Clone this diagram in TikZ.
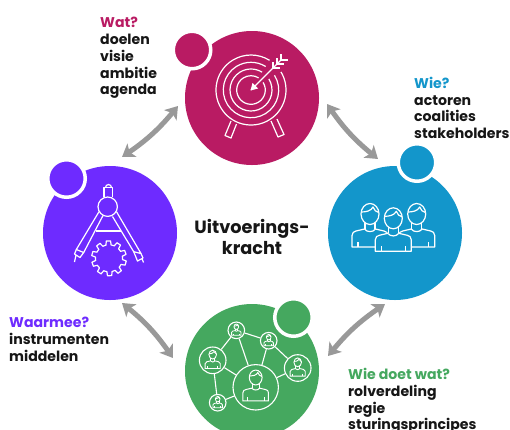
\documentclass[tikz,border=0pt]{standalone}
\usepackage{fontspec}
\setmainfont{Poppins}
\usetikzlibrary{arrows.meta,calc}
\definecolor{cmag}{HTML}{B91B63}
\definecolor{cblu}{HTML}{1396CB}
\definecolor{cgrn}{HTML}{45A85F}
\definecolor{cpur}{HTML}{6E2BFF}
\definecolor{cgry}{HTML}{999999}
\definecolor{ctxt}{HTML}{161616}
\tikzset{
  bigc/.style={circle,inner sep=0pt,minimum size=134pt,fill=#1},
  smallc/.style={circle,inner sep=0pt,minimum size=37.5pt,fill=#1,draw=white,line width=3.5pt},
  netc/.style={circle,inner sep=0pt,draw=white,line width=1.1pt,minimum size=#1},
  netl/.style={draw=white,line width=1.1pt},
  ico/.style={draw=white,line width=1.2pt,line join=round},
  link/.style={draw=cgry,line width=5pt,{Stealth[length=12pt,width=16pt,inset=3pt]}-{Stealth[length=12pt,width=16pt,inset=3pt]}},
  lab/.style={anchor=north west,inner sep=0pt,align=left,text=ctxt,font=\bfseries\fontsize{14.1}{16.9}\selectfont},
  person/.pic={
    \path[pic actions] (-18,33) -- (-18,21.5) .. controls (-18,18.5) and (-16,17.5) .. (-14,17) -- (-5.5,15)
      .. controls (-3,18.5) and (3,18.5) .. (5.5,15) -- (14,17) .. controls (16,17.5) and (18,18.5) .. (18,21.5) -- (18,33) -- cycle;
    \path[pic actions] (-5,8) -- (-5,15) (5,8) -- (5,15) (-12,33) -- (-12,28) (12,33) -- (12,28);
    \path[pic actions] (0,0) ellipse[x radius=9,y radius=10.5];
    \path[pic actions] (-8.8,-2) .. controls (-4,-2) and (1,-3) .. (3,-7) .. controls (4,-4) and (6,-2) .. (8.8,-1.5);
  }
}
\begin{document}
\begin{tikzpicture}[x=1pt,y=-1pt]
\useasboundingbox[fill=white] (0,0) rectangle (510,429);
% big circles
\node[bigc=cmag] (mag) at (252,98) {};
\node[bigc=cblu] (blu) at (395,233) {};
\node[bigc=cgrn] (grn) at (252,371) {};
\node[bigc=cpur] (pur) at (110,233) {};
\node[smallc=cmag] (smag) at (192,50) {};
\node[smallc=cblu] (sblu) at (417,162.5) {};
\node[smallc=cgrn] (sgrn) at (293.5,317.5) {};
\node[smallc=cpur] (spur) at (66.5,178.5) {};
% connector ends
\coordinate (pm) at ($(pur)+(12,-76)$);
\coordinate (mp) at ($(mag)+(-74,8)$);
\coordinate (mb) at ($(mag)+(75,6)$);
\coordinate (bm) at ($(blu)+(-17,-74)$);
\coordinate (bg) at ($(blu)+(-10,71)$);
\coordinate (gb) at ($(grn)+(76,-15)$);
\coordinate (gp) at ($(grn)+(-79,-13)$);
\coordinate (pg) at ($(pur)+(12,70)$);
\draw[link] (pm) to[bend right=8] (mp);
\draw[link] (mb) to[bend right=8] (bm);
\draw[link] (bg) to[bend right=8] (gb);
\draw[link] (gp) to[bend right=8] (pg);
% target icon
\begin{scope}[shift={(251,90)}]
  \draw[ico] (-31:35) arc[start angle=-31,end angle=302,radius=35];
  \foreach \r in {27.7,21,14.3}
    \draw[ico] (-32:\r) arc[start angle=-32,end angle=302,radius=\r];
  \draw[ico] (0,0) -- (30,-30);
  \fill[white] (-0.5,0.5) -- (7,-1.5) -- (1.5,-7) -- cycle;
  \foreach \d in {0,4,8}
    \draw[ico] (22+\d,-22-\d) -- +(0,-6.5) (22+\d,-22-\d) -- +(6.5,0);
  \draw[ico] (-20,31) -- (-26,45.5) -- (-20,48) -- (-14.5,34);
  \draw[ico] (20,31) -- (27,47) -- (33,44.5) -- (26,29);
\end{scope}
% people icon
\pic[ico,fill=cblu] at (370,214) {person};
\pic[ico,fill=cblu] at (416.7,214) {person};
\pic[ico,fill=cblu] at (393.3,218.3) {person};
% network icon
\node[netc=45.4pt] (n0) at (255.7,387.3) {};
\node[netc=26.6pt] (n1) at (212.7,360.3) {};
\node[netc=16.6pt] (n2) at (236.3,330.3) {};
\node[netc=16.6pt] (n3) at (268.7,340.7) {};
\node[netc=26.6pt] (n4) at (297.7,368) {};
\node[netc=16.6pt] (n5) at (217.7,402.7) {};
\path[netl] (n1) edge (n2) (n2) edge (n3) (n2) edge (n0) (n3) edge (n0) (n3) edge (n4)
  (n4) edge (n0) (n1) edge (n0) (n1) edge (n5) (n5) edge (n0);
\pic[draw=white,line width=1pt,scale=.71] at (255.7,377.5) {person};
\pic[draw=white,line width=.9pt,scale=.42] at (212.7,354.6) {person};
\pic[draw=white,line width=.8pt,scale=.26] at (236.3,326.7) {person};
\pic[draw=white,line width=.8pt,scale=.26] at (268.7,337.1) {person};
\pic[draw=white,line width=.9pt,scale=.42] at (297.7,362.3) {person};
\pic[draw=white,line width=.8pt,scale=.26] at (217.7,399.1) {person};
% compass icon
\draw[ico] (107.7,206.7) circle[radius=9.7];
\draw[ico] (104,196.9) -- (104,187.5) -- (112.7,187.5) -- (112.7,196.9);
\draw[ico] (105.5,187.5) arc[start angle=180,end angle=360,radius=3];
\draw[ico] (99,211.7) -- (76.3,249.5) -- (83.7,252.5) -- (103,215.5);
\draw[ico] (116.5,211.7) -- (141,253.5) -- (133.7,251.7) -- (112.5,216.5);
\draw[ico] (76.3,249.5) -- (74.5,254) -- (80,257.5) -- (83.7,252.5) (76,255) -- (74.5,262);
\draw[ico] (141,253.5) -- (143,258) -- (137.5,261) -- (133.7,251.7) (142,258.5) -- (143.5,262.5);
\draw[ico] (96,231) -- (121,231);
\begin{scope}[shift={(109,258.3)}]
  \draw[ico] (0:13.5)
    \foreach \a in {0,36,...,324} {
      -- (\a+5:13.5) -- (\a+9:17.5) -- (\a+23:17.5) -- (\a+27:13.5) -- (\a+36:13.5)
    } -- cycle;
\end{scope}
% labels
\node[lab] (tmag) at (100,16.7) {\textcolor{cmag}{Wat?}\\doelen\\visie\\ambitie\\agenda};
\node[lab] (tblu) at (414,76.7) {\textcolor{cblu}{Wie?}\\actoren\\coalities\\stakeholders};
\node[lab] (tpur) at (9,316.7) {\textcolor{cpur}{Waarmee?}\\instrumenten\\middelen};
\node[lab] (tgrn) at (348,367.7) {\textcolor{cgrn}{Wie doet wat?}\\rolverdeling\\regie\\sturingsprincipes};
\node[inner sep=0pt,align=center,text=ctxt,font=\bfseries\fontsize{17.7}{21}\selectfont] (tmid) at (252,237.3) {Uitvoerings-\\kracht};
\end{tikzpicture}
\end{document}
